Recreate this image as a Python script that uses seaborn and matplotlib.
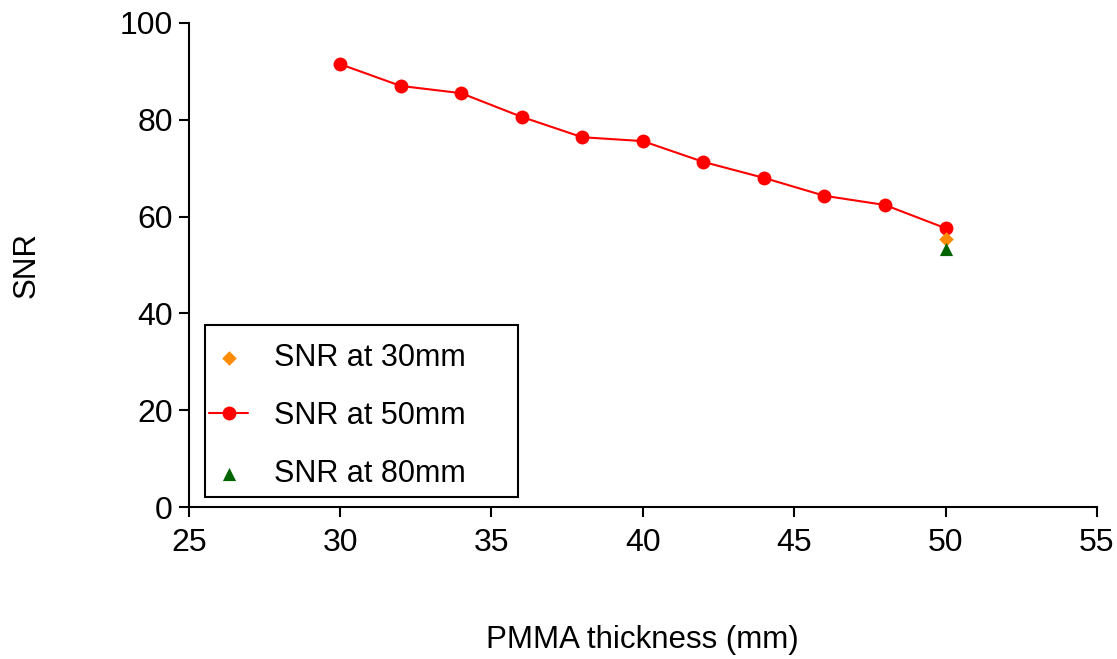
import matplotlib
matplotlib.use("Agg")
import matplotlib.pyplot as plt
from matplotlib.patches import Rectangle
import seaborn as sns
import pandas as pd

thickness_50 = [30, 32, 34, 36, 38, 40, 42, 44, 46, 48, 50]
snr_50 = [91.5, 87.0, 85.5, 80.6, 76.4, 75.6, 71.3, 68.0, 64.3, 62.4, 57.6]
thickness_30 = [50]
snr_30 = [55.4]
thickness_80 = [50]
snr_80 = [53.3]

x_ticks = [25, 30, 35, 40, 45, 50, 55]
y_ticks = [0, 20, 40, 60, 80, 100]

sns.set_style("ticks")
plt.rcParams['font.family'] = ['Liberation Sans', 'DejaVu Sans']
plt.rcParams['text.color'] = 'black'
plt.rcParams['axes.labelcolor'] = 'black'
plt.rcParams['xtick.color'] = 'black'
plt.rcParams['ytick.color'] = 'black'

fig = plt.figure(figsize=(11.17, 6.59), dpi=100)
ax = fig.add_axes([0.169, 0.2306, 0.813, 0.7345])

df30 = pd.DataFrame({"x": thickness_30, "y": snr_30})
df50 = pd.DataFrame({"x": thickness_50, "y": snr_50})
df80 = pd.DataFrame({"x": thickness_80, "y": snr_80})

sns.lineplot(data=df50, x="x", y="y", ax=ax, color="#ff0000", lw=1.5,
             marker="o", markersize=10, markeredgewidth=0, label="SNR at 50mm", zorder=3)
sns.scatterplot(data=df30, x="x", y="y", ax=ax, color="#ff8c00", marker="D",
                s=55, linewidth=0, label="SNR at 30mm", zorder=4)
sns.scatterplot(data=df80, x="x", y="y", ax=ax, color="#006400", marker="^",
                s=90, linewidth=0, label="SNR at 80mm", zorder=4)

ax.set_xlim(25, 55)
ax.set_ylim(0, 100)
ax.set_xticks(x_ticks)
ax.set_yticks(y_ticks)
ax.tick_params(axis="both", labelsize=23, length=7.5, width=1.5, direction="out",
               color="black", labelcolor="black", pad=4)
ax.tick_params(axis="x", pad=7.5)
for s in ["left", "bottom"]:
    ax.spines[s].set_linewidth(1.5)
    ax.spines[s].set_color("black")
sns.despine(ax=ax)
ax.set_xlabel("PMMA thickness (mm)", fontsize=22.5, labelpad=48)
ax.set_ylabel("SNR", fontsize=22.5, labelpad=56)

# legend box frame
ax.add_patch(Rectangle((0.0176, 0.0207), 0.3447, 0.3554, transform=ax.transAxes,
                       fill=False, edgecolor="black", lw=1.5, zorder=5, clip_on=False))

handles, labels = ax.get_legend_handles_labels()
order = [labels.index(l) for l in ["SNR at 30mm", "SNR at 50mm", "SNR at 80mm"]]
leg = ax.legend([handles[i] for i in order], [labels[i] for i in order],
                loc="center left", bbox_to_anchor=(0.022, 0.188),
                borderaxespad=0, borderpad=0, fontsize=22, frameon=False,
                handlelength=1.3, handletextpad=0.85, labelspacing=0.92)

fig.savefig("out.png", dpi=100)
